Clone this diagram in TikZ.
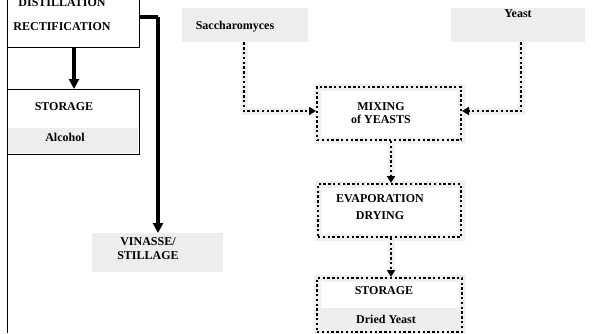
\documentclass[tikz,border=0pt]{standalone}
\usepackage{fontspec}
\setmainfont{Liberation Serif}
\usetikzlibrary{arrows.meta}
\begin{document}
\begin{tikzpicture}[x=1pt,y=1pt,
  font=\fontsize{12}{14}\selectfont\bfseries,
  solidbox/.style={draw,line width=1pt,inner sep=0pt,anchor=north west},
  greybox/.style={fill=black!7,inner sep=0pt,anchor=north west},
  dotbox/.style={draw,line width=2pt,dash pattern=on 2.4pt off 2.4pt,inner sep=0pt,anchor=north west,
     preaction={draw=black!6,line width=7pt,solid}},
  label/.style={inner sep=0pt,align=center},
  thickarrow/.style={line width=3.2pt,-{Triangle[length=10pt,width=10pt]}},
  thickline/.style={line width=3.2pt},
  dotarrow/.style={line width=2pt,dash pattern=on 2.4pt off 2.4pt,-{Triangle[length=7pt,width=8pt]},
     preaction={draw=black!6,line width=7pt,solid,-}},
]
\useasboundingbox (0,0) rectangle (596,-333);
\clip (0,0) rectangle (596,-333);
\fill[white] (0,0) rectangle (596,-333);

% left column
\node[solidbox,minimum width=132pt,minimum height=57pt] (dist) at (7,10) {};
\node[label] (tdist) at (62,-3) {DISTILLATION};
\node[label] (trect) at (62,-27) {RECTIFICATION};
\draw[line width=1pt] (7,0) -- (7,-333);

\node[solidbox,minimum width=132pt,minimum height=65pt] (stor1) at (7,-89) {};
\node[greybox,minimum width=130pt,minimum height=25pt] (alc) at (8,-127.5) {};
\node[label] (tstor1) at (64,-107) {STORAGE};
\node[label] (talc) at (65,-137) {Alcohol};

\draw[thickarrow] (74,-47) -- (stor1.north -| 74,0);

\coordinate (vs) at (139,-17);
\coordinate (vc) at (158,-17);
\node[greybox,minimum width=131pt,minimum height=39pt] (vin) at (92,-233) {};
\node[label] (tvin) at (148,-249) {VINASSE/\\STILLAGE};
\draw[thickline] (vs) -- (vc);
\draw[thickarrow] (vc) -- (vc |- vin.north) ;

% right part
\node[greybox,minimum width=126pt,minimum height=34pt] (sac) at (182,-8) {};
\node[label] (tsac) at (235,-27) {Saccharomyces};
\node[greybox,minimum width=134pt,minimum height=34pt] (yst) at (451,-8) {};
\node[label] (tyst) at (518,-14) {Yeast};

\node[dotbox,minimum width=144pt,minimum height=53pt] (mix) at (316,-86) {};
\node[label] (tmix) at (381,-113) {MIXING\\[-1pt]of YEASTS};

\node[dotbox,minimum width=143pt,minimum height=53pt] (evap) at (317,-183) {};
\node[label] (tevap) at (380,-207.5) {EVAPORATION\\[3pt]DRYING};

\node[dotbox,minimum width=145pt,minimum height=54pt] (stor2) at (316,-277) {};
\node[greybox,minimum width=140pt,minimum height=22pt] (dy) at (320,-308) {};
\node[label] (tstor2) at (384,-291) {STORAGE};
\node[label] (tdy) at (386,-319) {Dried Yeast};

\coordinate (sacc) at (244,-111);
\coordinate (ystc) at (521,-111);
\draw[dotarrow] (sac.south -| 244,0) -- (sacc) -- (mix.west |- sacc);
\draw[dotarrow] (yst.south -| 521,0) -- (ystc) -- (mix.east |- ystc);
\draw[dotarrow] (mix.south -| 391,0) -- (evap.north -| 391,0);
\draw[dotarrow] (evap.south -| 391,0) -- (stor2.north -| 391,0);
\end{tikzpicture}
\end{document}
